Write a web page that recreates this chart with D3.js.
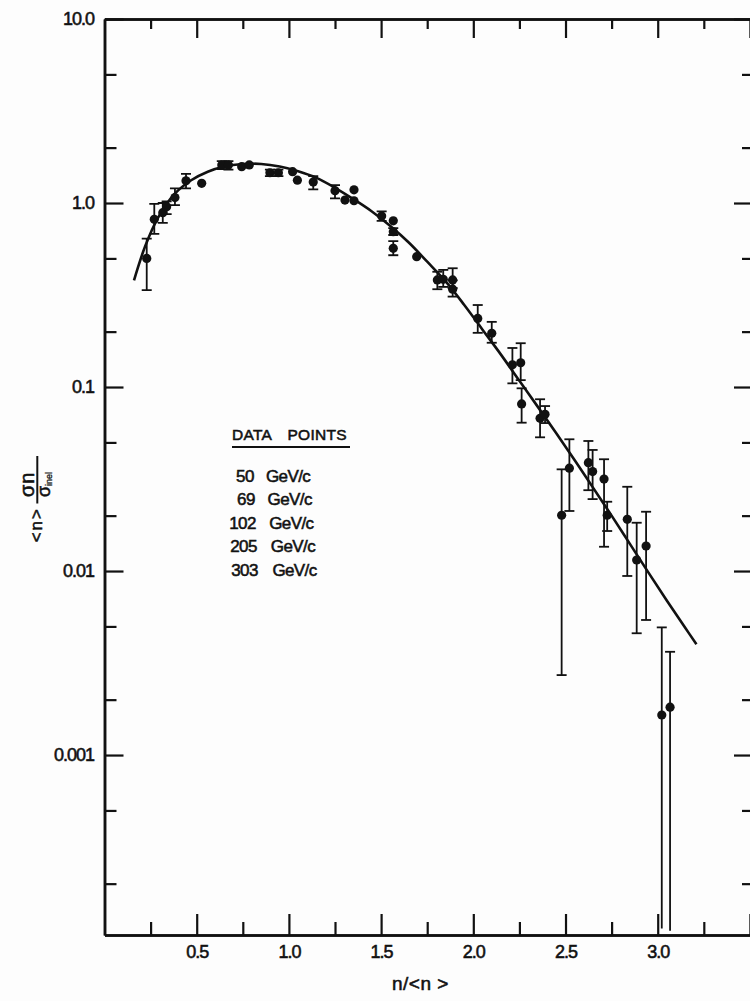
<!DOCTYPE html>
<html>
<head>
<meta charset="utf-8">
<script src="https://cdn.jsdelivr.net/npm/d3@7"></script>
<style>
  html, body { margin: 0; padding: 0; background: #fdfdfd; overflow: hidden; }
  svg { display: block; }
  text { font-family: "Liberation Sans", Arial, sans-serif; fill: #111; stroke: #111; stroke-width: 0.55px; }
</style>
</head>
<body>
<svg id="chart" width="750" height="1001"></svg>
<script>
// ---------------- data ----------------
const ptX = [0.229, 0.270, 0.316, 0.337, 0.382, 0.442, 0.527, 0.636, 0.672, 0.744,
             0.785, 0.897, 0.943, 1.020, 1.046, 1.132, 1.250, 1.304, 1.353, 1.353,
             1.503, 1.566, 1.566, 1.566, 1.693, 1.805, 1.837, 1.888, 1.888, 2.024,
             2.100, 2.212, 2.257, 2.262, 2.362, 2.389, 2.479, 2.521, 2.624, 2.647,
             2.709, 2.726, 2.835, 2.886, 2.937, 3.022, 3.067];
const ptY = [0.50, 0.815, 0.886, 0.955, 1.07, 1.32, 1.28, 1.61, 1.61, 1.575,
             1.61, 1.46, 1.46, 1.48, 1.33, 1.30, 1.167, 1.038, 1.18, 1.029,
             0.85, 0.80, 0.698, 0.567, 0.511, 0.382, 0.385, 0.382, 0.34, 0.236,
             0.196, 0.132, 0.1355, 0.0809, 0.0676, 0.0711, 0.0201, 0.0362, 0.0388, 0.0347,
             0.0316, 0.0201, 0.0191, 0.01148, 0.01368, 0.00165, 0.00182];
const errHi = [0.64, 0.99, 1.0, 1.02, 1.20, 1.44, null, 1.69, 1.69, null,
               null, 1.52, 1.52, null, null, 1.40, 1.25, null, null, null,
               0.90, null, 0.73, 0.62, null, 0.423, 0.433, 0.442, 0.38, 0.279,
               0.226, 0.163, 0.173, 0.0984, 0.0858, 0.0788, 0.0357, 0.052, 0.0509, 0.0455,
               0.0405, 0.0238, 0.0287, 0.0183, 0.0210, 0.00494, 0.00364];
const errLo = [0.336, 0.68, 0.78, 0.87, 0.975, 1.20, null, 1.53, 1.52, null,
               null, 1.40, 1.40, null, null, 1.187, 1.06, null, null, null,
               0.80, null, 0.67, 0.52, null, 0.34, 0.35, 0.345, 0.31, 0.197,
               0.174, 0.1047, 0.109, 0.064, 0.0533, 0.0637, 0.00272, 0.0212, 0.0275, 0.0246,
               0.01355, 0.0165, 0.0094, 0.00459, 0.00542, 0.000114, 0.000111];

const curveX = [0.16, 0.22, 0.29, 0.38, 0.47, 0.56, 0.65, 0.75, 0.85, 0.95,
                1.05, 1.15, 1.25, 1.35, 1.45, 1.55, 1.65, 1.75, 1.85, 1.95,
                2.05, 2.15, 2.25, 2.35, 2.45, 2.55, 2.65, 2.75, 2.85, 2.95,
                3.05, 3.15, 3.21];
const curveY = [0.38, 0.58, 0.83, 1.12, 1.33, 1.48, 1.58, 1.63, 1.63, 1.58,
                1.49, 1.37, 1.21, 1.05, 0.90, 0.75, 0.61, 0.48, 0.375, 0.28,
                0.205, 0.150, 0.108, 0.078, 0.056, 0.040, 0.0283, 0.0200, 0.0140, 0.0098,
                0.0069, 0.0049, 0.0040];

const xMajorTicks = [0.5, 1.0, 1.5, 2.0, 2.5, 3.0, 3.5];
const xTickLabels = ["0.5", "1.0", "1.5", "2.0", "2.5", "3.0", ""];
const xMinorTicks = [0.25, 0.75, 1.25, 1.75, 2.25, 2.75, 3.25];
const yMajorTicks = [10, 1, 0.1, 0.01, 0.001];
const yTickLabels = ["10.0", "1.0", "0.1", "0.01", "0.001"];
const yMinorTicks = [5, 2, 0.5, 0.2, 0.05, 0.02, 0.005, 0.002, 0.0005, 0.0002];

const legendTitle = ["DATA", "POINTS"];
const legendMomenta = ["50", "69", "102", "205", "303"];
const legendUnit = "GeV/c";
const xTitle = "n/<n >";

// ---------------- layout ----------------
const svg = d3.select("#chart");
const L = 104.5, R = 756, T = 19, B = 935;
const x = d3.scaleLinear().domain([0, 3.533]).range([L, R]);
const y = d3.scaleLog().domain([1.052e-4, 10]).range([B, T]);
const ink = "#111";

svg.append("defs").append("clipPath").attr("id", "plot")
  .append("rect").attr("x", L).attr("y", T).attr("width", R - L).attr("height", B - T);

function styleAxis(g) {
  g.selectAll("path.domain").attr("stroke", ink).attr("stroke-width", 2.5);
  g.selectAll(".tick line").attr("stroke", ink).attr("stroke-width", 2.2);
  g.selectAll(".tick text").style("font-size", "18px").style("letter-spacing", "-1px").attr("fill", ink);
}
function noDomain(g) { g.select("path.domain").remove(); }

// bottom axis
svg.append("g").attr("transform", `translate(0,${B})`)
  .call(d3.axisBottom(x).tickValues(xMajorTicks).tickSize(-21).tickSizeOuter(0).tickPadding(10)
        .tickFormat((d, i) => xTickLabels[i]))
  .call(styleAxis);
svg.append("g").attr("transform", `translate(0,${B})`)
  .call(d3.axisBottom(x).tickValues(xMinorTicks).tickSize(-13).tickSizeOuter(0).tickFormat(""))
  .call(styleAxis);
// top axis
svg.append("g").attr("transform", `translate(0,${T})`)
  .call(d3.axisTop(x).tickValues(xMajorTicks).tickSize(-19).tickSizeOuter(0).tickFormat(""))
  .call(styleAxis);
svg.append("g").attr("transform", `translate(0,${T})`)
  .call(d3.axisTop(x).tickValues(xMinorTicks).tickSize(-10).tickSizeOuter(0).tickFormat(""))
  .call(styleAxis);
// left axis
svg.append("g").attr("transform", `translate(${L},0)`)
  .call(d3.axisLeft(y).tickValues(yMajorTicks).tickSize(-19).tickSizeOuter(0).tickPadding(10.5)
        .tickFormat((d, i) => yTickLabels[i]))
  .call(styleAxis);
svg.append("g").attr("transform", `translate(${L},0)`)
  .call(d3.axisLeft(y).tickValues(yMinorTicks).tickSize(-12).tickSizeOuter(0).tickFormat(""))
  .call(styleAxis);
// right axis (its frame line lies just past the picture edge)
svg.append("g").attr("transform", `translate(${R},0)`)
  .call(d3.axisRight(y).tickValues(yMajorTicks).tickSize(-22).tickSizeOuter(0).tickFormat(""))
  .call(styleAxis).call(noDomain);
svg.append("g").attr("transform", `translate(${R},0)`)
  .call(d3.axisRight(y).tickValues(yMinorTicks).tickSize(-14).tickSizeOuter(0).tickFormat(""))
  .call(styleAxis).call(noDomain);

// ---------------- curve ----------------
const curveData = curveX.map((v, i) => [v, curveY[i]]);
svg.append("path")
  .datum(curveData)
  .attr("fill", "none").attr("stroke", ink).attr("stroke-width", 2.6)
  .attr("d", d3.line().x(d => x(d[0])).y(d => y(d[1])).curve(d3.curveCatmullRom));

// ---------------- points & error bars ----------------
const pts = ptX.map((v, i) => ({ x: v, y: ptY[i], hi: errHi[i], lo: errLo[i] }));
const eb = svg.append("g").attr("clip-path", "url(#plot)")
  .attr("stroke", ink).attr("stroke-width", 1.8).attr("fill", "none");
const withErr = pts.filter(d => d.hi !== null);
eb.selectAll("line.bar").data(withErr).join("line")
  .attr("x1", d => x(d.x)).attr("x2", d => x(d.x))
  .attr("y1", d => y(d.hi)).attr("y2", d => y(d.lo));
eb.selectAll("line.capHi").data(withErr).join("line").attr("class", "capHi")
  .attr("x1", d => x(d.x) - 5).attr("x2", d => x(d.x) + 5)
  .attr("y1", d => y(d.hi)).attr("y2", d => y(d.hi));
eb.selectAll("line.capLo").data(withErr.filter(d => d.lo > 2e-4)).join("line").attr("class", "capLo")
  .attr("x1", d => x(d.x) - 5).attr("x2", d => x(d.x) + 5)
  .attr("y1", d => y(d.lo)).attr("y2", d => y(d.lo));

svg.append("g").selectAll("circle").data(pts).join("circle")
  .attr("cx", d => x(d.x)).attr("cy", d => y(d.y)).attr("r", 4.6).attr("fill", ink);

// ---------------- legend ----------------
const lg = svg.append("g");
lg.append("text").attr("x", 232).attr("y", 439.5)
  .style("font-size", "15.5px").style("letter-spacing", "0.3px").text(legendTitle[0]);
lg.append("text").attr("x", 347).attr("y", 439.5).attr("text-anchor", "end")
  .style("font-size", "15.5px").style("letter-spacing", "0.3px").text(legendTitle[1]);
lg.append("line").attr("x1", 232).attr("x2", 350).attr("y1", 447).attr("y2", 447)
  .attr("stroke", ink).attr("stroke-width", 2);
legendMomenta.forEach((m, i) => {
  const by = 481.5 + i * 23.6;
  lg.append("text").attr("x", 254 + i).attr("y", by).attr("text-anchor", "end")
    .style("font-size", "17px").style("letter-spacing", "-0.5px").text(m);
  lg.append("text").attr("x", 266 + i * 1.6).attr("y", by)
    .style("font-size", "17px").style("letter-spacing", "-0.6px").text(legendUnit);
});

// ---------------- axis titles ----------------
svg.append("text").attr("x", 392).attr("y", 990)
  .style("font-size", "19px").style("letter-spacing", "0.5px").text(xTitle);

const yt = svg.append("g").attr("transform", "translate(37.3,480) rotate(-90)");
yt.append("line").attr("x1", -23.5).attr("x2", 24).attr("y1", 0).attr("y2", 0)
  .attr("stroke", ink).attr("stroke-width", 2);
yt.append("text").attr("x", -17).attr("y", -3)
  .style("font-size", "20px").style("letter-spacing", "1px").text("σn");
const den = yt.append("text").attr("x", -17).attr("y", 12.7).style("font-size", "18px");
den.append("tspan").text("σ");
den.append("tspan").attr("dy", 2).style("font-size", "9px").style("stroke-width", "0.3px").text("inel");
yt.append("text").attr("x", -27).attr("y", 4.4).attr("text-anchor", "end")
  .style("font-size", "17px").style("letter-spacing", "2px").text("<n>");
</script>
</body>
</html>
